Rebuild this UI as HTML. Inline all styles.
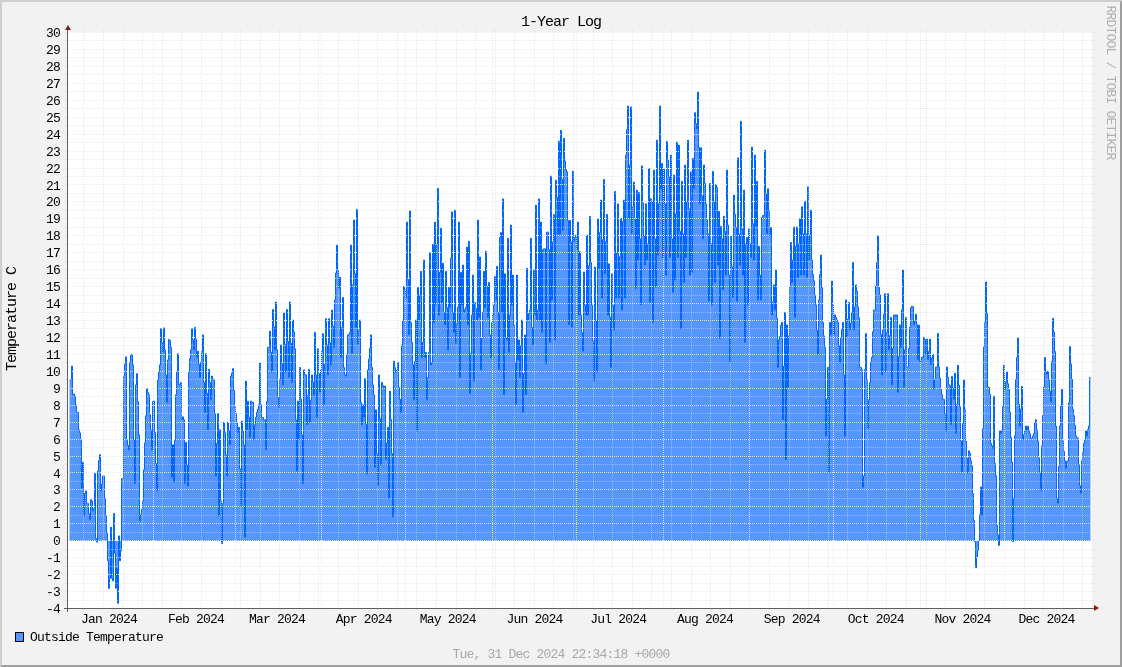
<!DOCTYPE html>
<html><head><meta charset="utf-8"><title>1-Year Log</title>
<style>html,body{margin:0;padding:0;background:#f2f2f2;}svg{display:block;will-change:transform;}</style>
</head><body>
<svg width="1122" height="667" viewBox="0 0 1122 667">
<rect x="0" y="0" width="1122" height="667" fill="#f2f2f2"/>
<polygon points="0,0 1122,0 1120,2 2,2 2,665 0,667" fill="#cfcfcf"/>
<polygon points="1122,0 1122,667 0,667 2,665 1120,665 1120,2" fill="#9e9e9e"/>
<rect x="68" y="32" width="1024" height="576" fill="#fff"/>
<path d="M69.5,541 V379.9H70.5H71.5V366.1H72.5V394.8H73.5V394H74.5V396.1H75.5V404.8H76.5V412.3H77.5H78.5V429.8H79.5V432.8H80.5V439.8H81.5V488.5H82.5V462.2H83.5V515.9H84.5V493.4H85.5V490.9H86.5V503.4H87.5H88.5V513.4H89.5V519.7H90.5V499.7H91.5V500.9H92.5V510.9H93.5V508.4H94.5V473.5H95.5V538.4H96.5V542.1H97.5V471H98.5V460.4H99.5V454.8H100.5V490.9H101.5V484H102.5V476H103.5H104.5V498.4H105.5V515.9H106.5V533.4H107.5V560.8H108.5V588.3H109.5V578.3H110.5V527.1H111.5V578.3H112.5V580.8H113.5V513.4H114.5V553.4H115.5V588.3H116.5V568.3H117.5V603.3H118.5V535.9H119.5V560.8H120.5V550.9H121.5V478.5H122.5H123.5V376.1H124.5V364H125.5V356.9H126.5V439.8H127.5V445.3H128.5V449.8H129.5V362.4H130.5V355.4H131.5V354.4H132.5V364.9H133.5V439.8H134.5V483.5H135.5V384.9H136.5V373.6H137.5V401.7H138.5V434.8H139.5V520.9H140.5V514.7H141.5V509.1H142.5V500.9H143.5V469.8H144.5V442.8H145.5V415.7H146.5V388.6H147.5V392.7H148.5V394.8H149.5V414.8H150.5V429.8H151.5V449.8H152.5V401.8H153.5V401.1H154.5V432.5H155.5V463.5H156.5V490.9H157.5V379.9H158.5V371.4H159.5V364.9H160.5V328.7H161.5V342.5H162.5V352.4H163.5V327.9H164.5V349.9H165.5V374.9H166.5V402.3H167.5V359.9H168.5V339.4H169.5V340.4H170.5V347.4H171.5V477.2H172.5V444.8H173.5V482.2H174.5V440.5H175.5V394.8H176.5V371.7H177.5V353.7H178.5V384.9H179.5V384.1H180.5V382.4H181.5V419.8H182.5V416.8H183.5V419.8H184.5V483.5H185.5V442.3H186.5V465.1H187.5V486H188.5V372.4H189.5V358.6H190.5V349.9H191.5V328.7H192.5V339.8H193.5V349.9H194.5V327.4H195.5V339.4H196.5V357.4H197.5V351.2H198.5V364.3H199.5V377.4H200.5V362.4H201.5V351.7H202.5V334.9H203.5V382.4H204.5V412.3H205.5V353.7H206.5V393.2H207.5V429.8H208.5V369.4H209.5V382.6H210.5V399.8H211.5V376.1H212.5V379H213.5V379.9H214.5V413.6H215.5V476H216.5V443.3H217.5V413.6H218.5V515.9H219.5V429.8H220.5V500.9H221.5V543.4H222.5V503.4H223.5V422.3H224.5V432.3H225.5V455.1H226.5V476H227.5V422.3H228.5V431H229.5V444.8H230.5V376.1H231.5V372.9H232.5V368.6H233.5V390.5H234.5V407.3H235.5V413.6H236.5V423H237.5V432.3H238.5V427.3H239.5V468.6H240.5V505.9H241.5V421.1H242.5V431.4H243.5V444.8H244.5V537.1H245.5V381.1H246.5V429.8H247.5V401.1H248.5V417.2H249.5V437.3H250.5V401.1H251.5V402.7H252.5V402.3H253.5V439.8H254.5V424.8H255.5V417.1H256.5V412.3H257.5V409.1H258.5V404.8H259.5V362.9H260.5V404.8H261.5V417.3H262.5V417.6H263.5V419.8H264.5H265.5V449.8H266.5V401.6H267.5V347.4H268.5H269.5V331.2H270.5V352.3H271.5V372.4H272.5V309.5H273.5V326.7H274.5V349.9H275.5V302H276.5V349.7H277.5V397.3H278.5V407.3H279.5V379.1H280.5V344.9H281.5V363.4H282.5V384.9H283.5V313H284.5V344.2H285.5V372.4H286.5V309.5H287.5V341.4H288.5V377.4H289.5V302H290.5V343.2H291.5V382.4H292.5V320H293.5V331.8H294.5V348.7H295.5V419.8H296.5V471H297.5V401.1H298.5V439.8H299.5V367.4H300.5V399.1H301.5V434.8H302.5V483.5H303.5V369.9H304.5V374.4H305.5V374.9H306.5V424.8H307.5V395.6H308.5V369.4H309.5V422.3H310.5V400.1H311.5V374.9H312.5V381.9H313.5V394.8H314.5V332.4H315.5V374.9H316.5V417.3H317.5V348.7H318.5V373.5H319.5V392.3H320.5V369.9H321.5V351.3H322.5V333.7H323.5V404.8H324.5V364.3H325.5V318.7H326.5V344.8H327.5V374.9H328.5V318.7H329.5V342.8H330.5V364.9H331.5V310H332.5V326.2H333.5V347.4H334.5V300H335.5V273.1H336.5V245.2H337.5V269.2H338.5V288.3H339.5V277.1H340.5V357.4H341.5V327.4H342.5V297.5H343.5V367.4H344.5V374.8H345.5V376.1H346.5V354H347.5V334.9H348.5V334.2H349.5V332.4H350.5V245.1H351.5V353.7H352.5V284.9H353.5V220.1H354.5V273.8H355.5V327.4H356.5V209.4H357.5V344.9H358.5V329.9H359.5V320H360.5V402.3H361.5V424.8H362.5V404.8H363.5V417.3H364.5V378.6H365.5V424.3H366.5V474H367.5V369.9H368.5V359.2H369.5V348.6H370.5V334.9H371.5V367.4H372.5V384.9H373.5V394.8H374.5V467.2H375.5V409.8H376.5V453.5H377.5V485.5H378.5V374.9H379.5V418.8H380.5V464.7H381.5V382.4H382.5V385.6H383.5V387.9H384.5V386.1H385.5V459.7H386.5V443H387.5V427.3H388.5V498.4H389.5V391.1H390.5V419.3H391.5V453.5H392.5V517.2H393.5V361.1H394.5V367.8H395.5V372.4H396.5V370.4H397.5V362.4H398.5V387.4H399.5V399.3H400.5V412.3H401.5V344.9H402.5V320H403.5V286.3H404.5V290.1H405.5V298H406.5V222.1H407.5V279.5H408.5V334.9H409.5V210.9H410.5V322.5H411.5V342.2H412.5V364.9H413.5V399.8H414.5V361.4H415.5V320H416.5V431H417.5V287.5H418.5V320H419.5V295.6H420.5V271.3H421.5V357.4H422.5V342.4H423.5V260H424.5V357.4H425.5V352.4H426.5V399.8H427.5V377.6H428.5V352.4H429.5V252.6H430.5V364.9H431.5V362.4H432.5V244.3H433.5V322.5H434.5V222.1H435.5V305H436.5V244.2H437.5V188.4H438.5V315H439.5V272.2H440.5V228.3H441.5V302.5H442.5V263.3H443.5V312.5H444.5V324.9H445.5V271.3H446.5V307.5H447.5V349.9H448.5V287.5H449.5V307.5H450.5V258.2H451.5V211.9H452.5V312.5H453.5V332.4H454.5V210.1H455.5V343.7H456.5V323.6H457.5V307.5H458.5V222.1H459.5V377.4H460.5V272.5H461.5V305H462.5V265H463.5V312.5H464.5V309.5H465.5V307.5H466.5V247.1H467.5V324.9H468.5V241.3H469.5V393.6H470.5V353.3H471.5V315H472.5V275H473.5V381.1H474.5V302.5H475.5V308.7H476.5V320H477.5V220.1H478.5V317.5H479.5V257H480.5V369.9H481.5V338.2H482.5V312.5H483.5V271.3H484.5V307.5H485.5V251.3H486.5V286.4H487.5V317.5H488.5V282.5H489.5V334.9H490.5V357.4H491.5V322.5H492.5V315.2H493.5V305H494.5V276.3H495.5V300H496.5V266.3H497.5V312.5H498.5V369.9H499.5V237.6H500.5V232.6H501.5V312.5H502.5V198.9H503.5V394.8H504.5V273.8H505.5V337.4H506.5V339.9H507.5V238.3H508.5V352.4H509.5V315H510.5V225.1H511.5V305H512.5V275H513.5V324.9H514.5V362.4H515.5V404.8H516.5V275H517.5V359.9H518.5V339.9H519.5V377.4H520.5V345.7H521.5V320H522.5V412.3H523.5V373.6H524.5V334.9H525.5V394.8H526.5V268.3H527.5V320H528.5V313.5H529.5V310H530.5V238.3H531.5V327.4H532.5V344.9H533.5V270H534.5V315H535.5V205.1H536.5V320H537.5V310H538.5V198.9H539.5V320H540.5V222.1H541.5V332.4H542.5V249.7H543.5V248.8H544.5V248.8H545.5V363.6H546.5V232.2H547.5V232.1H548.5V249.7H549.5V342.4H550.5V176.1H551.5V300H552.5V241.9H553.5V214.7H554.5V339.9H555.5V180.2H556.5V197.1H557.5V234.1H558.5V141.2H559.5V234.1H560.5V130.3H561.5V179.3H562.5V230.2H563.5V138.3H564.5V161.1H565.5V169.4H566.5V171.8H567.5V220.5H568.5V324.9H569.5V220.5H570.5V241.9H571.5V327.4H572.5V171.2H573.5V241.9H574.5V237.5H575.5V235.1H576.5V249.7H577.5V222.1H578.5V315H579.5V251.7H580.5V315H581.5V332.6H582.5V351.2H583.5V272H584.5V305H585.5V315H586.5V235.1H587.5V315H588.5V265.7H589.5V216.4H590.5V262.7H591.5V305H592.5V340.5H593.5V381.1H594.5V267H595.5V320H596.5V372.4H597.5V218.9H598.5V268.8H599.5V232.5H600.5V200.1H601.5V298H602.5V239.7H603.5V179.4H604.5V273.8H605.5V241.6H606.5V214.4H607.5V315H608.5V263.8H609.5V317.1H610.5V367.4H611.5V273.8H612.5V305H613.5V329.9H614.5V191.4H615.5V298H616.5V252.9H617.5V203.9H618.5V298H619.5V256.7H620.5V218.4H621.5V310H622.5V221.4H623.5V200.1H624.5V298H625.5V155.2H626.5V129.6H627.5V106H628.5V218.8H629.5V164.9H630.5V107H631.5V233.8H632.5V206.4H633.5V182.1H634.5V218.8H635.5V288.7H636.5V190.1H637.5V260H638.5V192.6H639.5V238.8H640.5V304.9H641.5V165.9H642.5V203.1H643.5V236.3H644.5V265H645.5V203.8H646.5V260H647.5V243.8H648.5V168.4H649.5V302.4H650.5V198.8H651.5V201.3H652.5V322.4H653.5V170.1H654.5V238.8H655.5V287.4H656.5V140.2H657.5V255H658.5V203.8H659.5V106H660.5V188.8H661.5V163.4H662.5V257.5H663.5V168.4H664.5V203.8H665.5V275H666.5V141.4H667.5V159.9H668.5V176.4H669.5V257.5H670.5V155.1H671.5V238.8H672.5V292.4H673.5V175.1H674.5V280H675.5V213.8H676.5V142.2H677.5V257.5H678.5V145.2H679.5V231.3H680.5V328.6H681.5V181.4H682.5V233.8H683.5V282.5H684.5V165.1H685.5V257.5H686.5V201.3H687.5V140.2H688.5V208.8H689.5V275H690.5V171.9H691.5V272.5H692.5V158.4H693.5V188.8H694.5V112.7H695.5V123.8H696.5V128.9H697.5V92H698.5V147.4H699.5V203.8H700.5V147.7H701.5V195.7H702.5V238.8H703.5V165.1H704.5V183.5H705.5V203.8H706.5V219.8H707.5V233.8H708.5V301.2H709.5V183.4H710.5V243.8H711.5V304.9H712.5V171.4H713.5V201.3H714.5V282.5H715.5V184.6H716.5V187.6H717.5V265H718.5V211.3H719.5V338.6H720.5V226.3H721.5V238.8H722.5V289.9H723.5V216.3H724.5V231.3H725.5V275H726.5V170.1H727.5V225H728.5V275H729.5V362.3H730.5V236.3H731.5V266.8H732.5V297.4H733.5V195.1H734.5V214.3H735.5V227.5H736.5V301.2H737.5V157.9H738.5V233.8H739.5V265H740.5V121.4H741.5V228.8H742.5V275H743.5V190.1H744.5V342.4H745.5V243.8H746.5V237.5H747.5V304.9H748.5V228.8H749.5V243.8H750.5V257.5H751.5V147.2H752.5V223.8H753.5V260H754.5V155.1H755.5V226.3H756.5V181.4H757.5V299.9H758.5V246.3H759.5V275.1H760.5V299.9H761.5V217.5H762.5V215.4H763.5V216.3H764.5V150.2H765.5V193.5H766.5V233.8H767.5V188.8H768.5V210.6H769.5V236.3H770.5V227.5H771.5V314.9H772.5V301.9H773.5V284.9H774.5V309.9H775.5V270H776.5V318.1H777.5V367.3H778.5V339.9H779.5V336.5H780.5V325.2H781.5V322.4H782.5V419.7H783.5V366.1H784.5V312.4H785.5V459.7H786.5V324.9H787.5V387.3H788.5V335.9H789.5V287.4H790.5V242.5H791.5V282.5H792.5V260H793.5V227H794.5V317.4H795.5V246.3H796.5V227H797.5V277.5H798.5V243.8H799.5V218.8H800.5V275H801.5V206.8H802.5V233.8H803.5V275H804.5V201.3H805.5V233.8H806.5V277.5H807.5V186.8H808.5V260H809.5V235H810.5V210.1H811.5V260H812.5V274.6H813.5V280.8H814.5V294.9H815.5V304.9H816.5V330.4H817.5V354.8H818.5V299.9H819.5V274.5H820.5V255H821.5V287.7H822.5V322.4H823.5V335.9H824.5V347.4H825.5V436H826.5V399.1H827.5V367.3H828.5V472.2H829.5V322.4H830.5V334.9H831.5V281.2H832.5V305H833.5V334.9H834.5V314.9H835.5V317.4H836.5V319.9H837.5V322.4H838.5V345.4H839.5V362.3H840.5V337.4H841.5V329.4H842.5V322.4H843.5V374.8H844.5V436H845.5V299.9H846.5V337.4H847.5V318.9H848.5V302.4H849.5V329.9H850.5V323.1H851.5V312.4H852.5V262.5H853.5V329.9H854.5V306.9H855.5V284.9H856.5V291.2H857.5V306.8H858.5V317.4H859.5V367.3H860.5V367.6H861.5V369.8H862.5V487.1H863.5V475.9H864.5V369.8H865.5V333.6H866.5V379.6H867.5V428.5H868.5V399.8H869.5V382.6H870.5V362.3H871.5V357.3H872.5V331.6H873.5V309.9H874.5H875.5V286.2H876.5V262.5H877.5V235.8H878.5V287.4H879.5V294.9H880.5V334.4H881.5V374.8H882.5V329.9H883.5V314.3H884.5V293.7H885.5V372.3H886.5V332H887.5V293.7H888.5V349.8H889.5V335.6H890.5V317.4H891.5V384.8H892.5V348.3H893.5V314.9H894.5H895.5V316.4H896.5V314.9H897.5V392.3H898.5V356.6H899.5V324.9H900.5V347.4H901.5V309.7H902.5V270H903.5V387.3H904.5V349.8H905.5V317.4H906.5V367H907.5H908.5V348.6H909.5V327.2H910.5V307.7H911.5V306.2H912.5V306.7H913.5V324.7H914.5V320.4H915.5V314.2H916.5V324.7H917.5V359.5H918.5V325.2H919.5V362H920.5V360H921.5V357H922.5H923.5V337.1H924.5V339.6H925.5V354.5H926.5V339.1H927.5V359.5H928.5V351.3H929.5V339.1H930.5V364.5H931.5V358H932.5V354.5H933.5V389.4H934.5V379.7H935.5V367H936.5H937.5V333.4H938.5V367H939.5V378.2H940.5V389.4H941.5V394.7H942.5V399H943.5V399.3H944.5V413.6H945.5V430.9H946.5V367H947.5V377.2H948.5V384.4H949.5V385.6H950.5V424.7H951.5V376.4H952.5V387.9H953.5V399.3H954.5V373.2H955.5V433.4H956.5V404.3H957.5V365.2H958.5V385.5H959.5V406.8H960.5V440.9H961.5V472H962.5V423.5H963.5V379.9H964.5V409.4H965.5V440.9H966.5V458.1H967.5V473.2H968.5V450.8H969.5V453.3H970.5V460.8H971.5V465.8H972.5V493.7H973.5V520.5H974.5V541.7H975.5V567.8H976.5V557.1H977.5V550.4H978.5V540.4H979.5V514.7H980.5V486.9H981.5V515.6H982.5V428.8H983.5V347.1H984.5V322.2H985.5V281.9H986.5V313.5H987.5V386.9H988.5V387.6H989.5V394.3H990.5V443.4H991.5V445.9H992.5V448.4H993.5V396.3H994.5V463.3H995.5V475.7H996.5V525.5H997.5V535H998.5V545.4H999.5V430.9H1000.5V433.4H1001.5V430.9H1002.5V406.8H1003.5V365.2H1004.5V389.4H1005.5V381.7H1006.5V371.9H1007.5V383.7H1008.5V389.4H1009.5V412.1H1010.5V437.3H1011.5V462H1012.5V541.7H1013.5V498.1H1014.5V435.8H1015.5V379.4H1016.5V357.6H1017.5V337.9H1018.5V404.3H1019.5V426H1020.5V409.2H1021.5V386.4H1022.5V439.6H1023.5V434.6H1024.5V431H1025.5V426H1026.5V430.1H1027.5V426.3H1028.5V430.9H1029.5V433.7H1030.5V438.4H1031.5V438.2H1032.5V435.9H1033.5V433.5H1034.5V422.6H1035.5V419.7H1036.5V429.8H1037.5V440.9H1038.5V457.9H1039.5V472H1040.5V490.7H1041.5V445.9H1042.5V415.4H1043.5V387H1044.5V357.5H1045.5V371.5H1046.5V374.2H1047.5V371H1048.5V379.7H1049.5V391H1050.5V401.8H1051.5V361.6H1052.5V318.4H1053.5V332H1054.5V351.5H1055.5V426H1056.5V498.1H1057.5V503.1H1058.5V466.5H1059.5V426H1060.5V405.2H1061.5V389.4H1062.5V440.9H1063.5V451.3H1064.5V460.8H1065.5V468.3H1066.5V461.5H1067.5V460.8H1068.5V402.7H1069.5V346.6H1070.5V364H1071.5V379.4H1072.5V409.3H1073.5V415.7H1074.5V425.5H1075.5V435.9H1076.5V437.7H1077.5V438.4H1078.5V464.5H1079.5V485.7H1080.5V493.2H1081.5V460.8H1082.5V452.1H1083.5V443.4H1084.5V439.2H1085.5V430.9H1086.5V435.9H1087.5V429.4H1088.5V426H1089.5V377.4H1090.5V541 Z" fill="#5597ff"/>
<path d="M69.5,379.9H70.5H71.5V366.1H72.5V394.8H73.5V394H74.5V396.1H75.5V404.8H76.5V412.3H77.5H78.5V429.8H79.5V432.8H80.5V439.8H81.5V488.5H82.5V462.2H83.5V515.9H84.5V493.4H85.5V490.9H86.5V503.4H87.5H88.5V513.4H89.5V519.7H90.5V499.7H91.5V500.9H92.5V510.9H93.5V508.4H94.5V473.5H95.5V538.4H96.5V542.1H97.5V471H98.5V460.4H99.5V454.8H100.5V490.9H101.5V484H102.5V476H103.5H104.5V498.4H105.5V515.9H106.5V533.4H107.5V560.8H108.5V588.3H109.5V578.3H110.5V527.1H111.5V578.3H112.5V580.8H113.5V513.4H114.5V553.4H115.5V588.3H116.5V568.3H117.5V603.3H118.5V535.9H119.5V560.8H120.5V550.9H121.5V478.5H122.5H123.5V376.1H124.5V364H125.5V356.9H126.5V439.8H127.5V445.3H128.5V449.8H129.5V362.4H130.5V355.4H131.5V354.4H132.5V364.9H133.5V439.8H134.5V483.5H135.5V384.9H136.5V373.6H137.5V401.7H138.5V434.8H139.5V520.9H140.5V514.7H141.5V509.1H142.5V500.9H143.5V469.8H144.5V442.8H145.5V415.7H146.5V388.6H147.5V392.7H148.5V394.8H149.5V414.8H150.5V429.8H151.5V449.8H152.5V401.8H153.5V401.1H154.5V432.5H155.5V463.5H156.5V490.9H157.5V379.9H158.5V371.4H159.5V364.9H160.5V328.7H161.5V342.5H162.5V352.4H163.5V327.9H164.5V349.9H165.5V374.9H166.5V402.3H167.5V359.9H168.5V339.4H169.5V340.4H170.5V347.4H171.5V477.2H172.5V444.8H173.5V482.2H174.5V440.5H175.5V394.8H176.5V371.7H177.5V353.7H178.5V384.9H179.5V384.1H180.5V382.4H181.5V419.8H182.5V416.8H183.5V419.8H184.5V483.5H185.5V442.3H186.5V465.1H187.5V486H188.5V372.4H189.5V358.6H190.5V349.9H191.5V328.7H192.5V339.8H193.5V349.9H194.5V327.4H195.5V339.4H196.5V357.4H197.5V351.2H198.5V364.3H199.5V377.4H200.5V362.4H201.5V351.7H202.5V334.9H203.5V382.4H204.5V412.3H205.5V353.7H206.5V393.2H207.5V429.8H208.5V369.4H209.5V382.6H210.5V399.8H211.5V376.1H212.5V379H213.5V379.9H214.5V413.6H215.5V476H216.5V443.3H217.5V413.6H218.5V515.9H219.5V429.8H220.5V500.9H221.5V543.4H222.5V503.4H223.5V422.3H224.5V432.3H225.5V455.1H226.5V476H227.5V422.3H228.5V431H229.5V444.8H230.5V376.1H231.5V372.9H232.5V368.6H233.5V390.5H234.5V407.3H235.5V413.6H236.5V423H237.5V432.3H238.5V427.3H239.5V468.6H240.5V505.9H241.5V421.1H242.5V431.4H243.5V444.8H244.5V537.1H245.5V381.1H246.5V429.8H247.5V401.1H248.5V417.2H249.5V437.3H250.5V401.1H251.5V402.7H252.5V402.3H253.5V439.8H254.5V424.8H255.5V417.1H256.5V412.3H257.5V409.1H258.5V404.8H259.5V362.9H260.5V404.8H261.5V417.3H262.5V417.6H263.5V419.8H264.5H265.5V449.8H266.5V401.6H267.5V347.4H268.5H269.5V331.2H270.5V352.3H271.5V372.4H272.5V309.5H273.5V326.7H274.5V349.9H275.5V302H276.5V349.7H277.5V397.3H278.5V407.3H279.5V379.1H280.5V344.9H281.5V363.4H282.5V384.9H283.5V313H284.5V344.2H285.5V372.4H286.5V309.5H287.5V341.4H288.5V377.4H289.5V302H290.5V343.2H291.5V382.4H292.5V320H293.5V331.8H294.5V348.7H295.5V419.8H296.5V471H297.5V401.1H298.5V439.8H299.5V367.4H300.5V399.1H301.5V434.8H302.5V483.5H303.5V369.9H304.5V374.4H305.5V374.9H306.5V424.8H307.5V395.6H308.5V369.4H309.5V422.3H310.5V400.1H311.5V374.9H312.5V381.9H313.5V394.8H314.5V332.4H315.5V374.9H316.5V417.3H317.5V348.7H318.5V373.5H319.5V392.3H320.5V369.9H321.5V351.3H322.5V333.7H323.5V404.8H324.5V364.3H325.5V318.7H326.5V344.8H327.5V374.9H328.5V318.7H329.5V342.8H330.5V364.9H331.5V310H332.5V326.2H333.5V347.4H334.5V300H335.5V273.1H336.5V245.2H337.5V269.2H338.5V288.3H339.5V277.1H340.5V357.4H341.5V327.4H342.5V297.5H343.5V367.4H344.5V374.8H345.5V376.1H346.5V354H347.5V334.9H348.5V334.2H349.5V332.4H350.5V245.1H351.5V353.7H352.5V284.9H353.5V220.1H354.5V273.8H355.5V327.4H356.5V209.4H357.5V344.9H358.5V329.9H359.5V320H360.5V402.3H361.5V424.8H362.5V404.8H363.5V417.3H364.5V378.6H365.5V424.3H366.5V474H367.5V369.9H368.5V359.2H369.5V348.6H370.5V334.9H371.5V367.4H372.5V384.9H373.5V394.8H374.5V467.2H375.5V409.8H376.5V453.5H377.5V485.5H378.5V374.9H379.5V418.8H380.5V464.7H381.5V382.4H382.5V385.6H383.5V387.9H384.5V386.1H385.5V459.7H386.5V443H387.5V427.3H388.5V498.4H389.5V391.1H390.5V419.3H391.5V453.5H392.5V517.2H393.5V361.1H394.5V367.8H395.5V372.4H396.5V370.4H397.5V362.4H398.5V387.4H399.5V399.3H400.5V412.3H401.5V344.9H402.5V320H403.5V286.3H404.5V290.1H405.5V298H406.5V222.1H407.5V279.5H408.5V334.9H409.5V210.9H410.5V322.5H411.5V342.2H412.5V364.9H413.5V399.8H414.5V361.4H415.5V320H416.5V431H417.5V287.5H418.5V320H419.5V295.6H420.5V271.3H421.5V357.4H422.5V342.4H423.5V260H424.5V357.4H425.5V352.4H426.5V399.8H427.5V377.6H428.5V352.4H429.5V252.6H430.5V364.9H431.5V362.4H432.5V244.3H433.5V322.5H434.5V222.1H435.5V305H436.5V244.2H437.5V188.4H438.5V315H439.5V272.2H440.5V228.3H441.5V302.5H442.5V263.3H443.5V312.5H444.5V324.9H445.5V271.3H446.5V307.5H447.5V349.9H448.5V287.5H449.5V307.5H450.5V258.2H451.5V211.9H452.5V312.5H453.5V332.4H454.5V210.1H455.5V343.7H456.5V323.6H457.5V307.5H458.5V222.1H459.5V377.4H460.5V272.5H461.5V305H462.5V265H463.5V312.5H464.5V309.5H465.5V307.5H466.5V247.1H467.5V324.9H468.5V241.3H469.5V393.6H470.5V353.3H471.5V315H472.5V275H473.5V381.1H474.5V302.5H475.5V308.7H476.5V320H477.5V220.1H478.5V317.5H479.5V257H480.5V369.9H481.5V338.2H482.5V312.5H483.5V271.3H484.5V307.5H485.5V251.3H486.5V286.4H487.5V317.5H488.5V282.5H489.5V334.9H490.5V357.4H491.5V322.5H492.5V315.2H493.5V305H494.5V276.3H495.5V300H496.5V266.3H497.5V312.5H498.5V369.9H499.5V237.6H500.5V232.6H501.5V312.5H502.5V198.9H503.5V394.8H504.5V273.8H505.5V337.4H506.5V339.9H507.5V238.3H508.5V352.4H509.5V315H510.5V225.1H511.5V305H512.5V275H513.5V324.9H514.5V362.4H515.5V404.8H516.5V275H517.5V359.9H518.5V339.9H519.5V377.4H520.5V345.7H521.5V320H522.5V412.3H523.5V373.6H524.5V334.9H525.5V394.8H526.5V268.3H527.5V320H528.5V313.5H529.5V310H530.5V238.3H531.5V327.4H532.5V344.9H533.5V270H534.5V315H535.5V205.1H536.5V320H537.5V310H538.5V198.9H539.5V320H540.5V222.1H541.5V332.4H542.5V249.7H543.5V248.8H544.5V248.8H545.5V363.6H546.5V232.2H547.5V232.1H548.5V249.7H549.5V342.4H550.5V176.1H551.5V300H552.5V241.9H553.5V214.7H554.5V339.9H555.5V180.2H556.5V197.1H557.5V234.1H558.5V141.2H559.5V234.1H560.5V130.3H561.5V179.3H562.5V230.2H563.5V138.3H564.5V161.1H565.5V169.4H566.5V171.8H567.5V220.5H568.5V324.9H569.5V220.5H570.5V241.9H571.5V327.4H572.5V171.2H573.5V241.9H574.5V237.5H575.5V235.1H576.5V249.7H577.5V222.1H578.5V315H579.5V251.7H580.5V315H581.5V332.6H582.5V351.2H583.5V272H584.5V305H585.5V315H586.5V235.1H587.5V315H588.5V265.7H589.5V216.4H590.5V262.7H591.5V305H592.5V340.5H593.5V381.1H594.5V267H595.5V320H596.5V372.4H597.5V218.9H598.5V268.8H599.5V232.5H600.5V200.1H601.5V298H602.5V239.7H603.5V179.4H604.5V273.8H605.5V241.6H606.5V214.4H607.5V315H608.5V263.8H609.5V317.1H610.5V367.4H611.5V273.8H612.5V305H613.5V329.9H614.5V191.4H615.5V298H616.5V252.9H617.5V203.9H618.5V298H619.5V256.7H620.5V218.4H621.5V310H622.5V221.4H623.5V200.1H624.5V298H625.5V155.2H626.5V129.6H627.5V106H628.5V218.8H629.5V164.9H630.5V107H631.5V233.8H632.5V206.4H633.5V182.1H634.5V218.8H635.5V288.7H636.5V190.1H637.5V260H638.5V192.6H639.5V238.8H640.5V304.9H641.5V165.9H642.5V203.1H643.5V236.3H644.5V265H645.5V203.8H646.5V260H647.5V243.8H648.5V168.4H649.5V302.4H650.5V198.8H651.5V201.3H652.5V322.4H653.5V170.1H654.5V238.8H655.5V287.4H656.5V140.2H657.5V255H658.5V203.8H659.5V106H660.5V188.8H661.5V163.4H662.5V257.5H663.5V168.4H664.5V203.8H665.5V275H666.5V141.4H667.5V159.9H668.5V176.4H669.5V257.5H670.5V155.1H671.5V238.8H672.5V292.4H673.5V175.1H674.5V280H675.5V213.8H676.5V142.2H677.5V257.5H678.5V145.2H679.5V231.3H680.5V328.6H681.5V181.4H682.5V233.8H683.5V282.5H684.5V165.1H685.5V257.5H686.5V201.3H687.5V140.2H688.5V208.8H689.5V275H690.5V171.9H691.5V272.5H692.5V158.4H693.5V188.8H694.5V112.7H695.5V123.8H696.5V128.9H697.5V92H698.5V147.4H699.5V203.8H700.5V147.7H701.5V195.7H702.5V238.8H703.5V165.1H704.5V183.5H705.5V203.8H706.5V219.8H707.5V233.8H708.5V301.2H709.5V183.4H710.5V243.8H711.5V304.9H712.5V171.4H713.5V201.3H714.5V282.5H715.5V184.6H716.5V187.6H717.5V265H718.5V211.3H719.5V338.6H720.5V226.3H721.5V238.8H722.5V289.9H723.5V216.3H724.5V231.3H725.5V275H726.5V170.1H727.5V225H728.5V275H729.5V362.3H730.5V236.3H731.5V266.8H732.5V297.4H733.5V195.1H734.5V214.3H735.5V227.5H736.5V301.2H737.5V157.9H738.5V233.8H739.5V265H740.5V121.4H741.5V228.8H742.5V275H743.5V190.1H744.5V342.4H745.5V243.8H746.5V237.5H747.5V304.9H748.5V228.8H749.5V243.8H750.5V257.5H751.5V147.2H752.5V223.8H753.5V260H754.5V155.1H755.5V226.3H756.5V181.4H757.5V299.9H758.5V246.3H759.5V275.1H760.5V299.9H761.5V217.5H762.5V215.4H763.5V216.3H764.5V150.2H765.5V193.5H766.5V233.8H767.5V188.8H768.5V210.6H769.5V236.3H770.5V227.5H771.5V314.9H772.5V301.9H773.5V284.9H774.5V309.9H775.5V270H776.5V318.1H777.5V367.3H778.5V339.9H779.5V336.5H780.5V325.2H781.5V322.4H782.5V419.7H783.5V366.1H784.5V312.4H785.5V459.7H786.5V324.9H787.5V387.3H788.5V335.9H789.5V287.4H790.5V242.5H791.5V282.5H792.5V260H793.5V227H794.5V317.4H795.5V246.3H796.5V227H797.5V277.5H798.5V243.8H799.5V218.8H800.5V275H801.5V206.8H802.5V233.8H803.5V275H804.5V201.3H805.5V233.8H806.5V277.5H807.5V186.8H808.5V260H809.5V235H810.5V210.1H811.5V260H812.5V274.6H813.5V280.8H814.5V294.9H815.5V304.9H816.5V330.4H817.5V354.8H818.5V299.9H819.5V274.5H820.5V255H821.5V287.7H822.5V322.4H823.5V335.9H824.5V347.4H825.5V436H826.5V399.1H827.5V367.3H828.5V472.2H829.5V322.4H830.5V334.9H831.5V281.2H832.5V305H833.5V334.9H834.5V314.9H835.5V317.4H836.5V319.9H837.5V322.4H838.5V345.4H839.5V362.3H840.5V337.4H841.5V329.4H842.5V322.4H843.5V374.8H844.5V436H845.5V299.9H846.5V337.4H847.5V318.9H848.5V302.4H849.5V329.9H850.5V323.1H851.5V312.4H852.5V262.5H853.5V329.9H854.5V306.9H855.5V284.9H856.5V291.2H857.5V306.8H858.5V317.4H859.5V367.3H860.5V367.6H861.5V369.8H862.5V487.1H863.5V475.9H864.5V369.8H865.5V333.6H866.5V379.6H867.5V428.5H868.5V399.8H869.5V382.6H870.5V362.3H871.5V357.3H872.5V331.6H873.5V309.9H874.5H875.5V286.2H876.5V262.5H877.5V235.8H878.5V287.4H879.5V294.9H880.5V334.4H881.5V374.8H882.5V329.9H883.5V314.3H884.5V293.7H885.5V372.3H886.5V332H887.5V293.7H888.5V349.8H889.5V335.6H890.5V317.4H891.5V384.8H892.5V348.3H893.5V314.9H894.5H895.5V316.4H896.5V314.9H897.5V392.3H898.5V356.6H899.5V324.9H900.5V347.4H901.5V309.7H902.5V270H903.5V387.3H904.5V349.8H905.5V317.4H906.5V367H907.5H908.5V348.6H909.5V327.2H910.5V307.7H911.5V306.2H912.5V306.7H913.5V324.7H914.5V320.4H915.5V314.2H916.5V324.7H917.5V359.5H918.5V325.2H919.5V362H920.5V360H921.5V357H922.5H923.5V337.1H924.5V339.6H925.5V354.5H926.5V339.1H927.5V359.5H928.5V351.3H929.5V339.1H930.5V364.5H931.5V358H932.5V354.5H933.5V389.4H934.5V379.7H935.5V367H936.5H937.5V333.4H938.5V367H939.5V378.2H940.5V389.4H941.5V394.7H942.5V399H943.5V399.3H944.5V413.6H945.5V430.9H946.5V367H947.5V377.2H948.5V384.4H949.5V385.6H950.5V424.7H951.5V376.4H952.5V387.9H953.5V399.3H954.5V373.2H955.5V433.4H956.5V404.3H957.5V365.2H958.5V385.5H959.5V406.8H960.5V440.9H961.5V472H962.5V423.5H963.5V379.9H964.5V409.4H965.5V440.9H966.5V458.1H967.5V473.2H968.5V450.8H969.5V453.3H970.5V460.8H971.5V465.8H972.5V493.7H973.5V520.5H974.5V541.7H975.5V567.8H976.5V557.1H977.5V550.4H978.5V540.4H979.5V514.7H980.5V486.9H981.5V515.6H982.5V428.8H983.5V347.1H984.5V322.2H985.5V281.9H986.5V313.5H987.5V386.9H988.5V387.6H989.5V394.3H990.5V443.4H991.5V445.9H992.5V448.4H993.5V396.3H994.5V463.3H995.5V475.7H996.5V525.5H997.5V535H998.5V545.4H999.5V430.9H1000.5V433.4H1001.5V430.9H1002.5V406.8H1003.5V365.2H1004.5V389.4H1005.5V381.7H1006.5V371.9H1007.5V383.7H1008.5V389.4H1009.5V412.1H1010.5V437.3H1011.5V462H1012.5V541.7H1013.5V498.1H1014.5V435.8H1015.5V379.4H1016.5V357.6H1017.5V337.9H1018.5V404.3H1019.5V426H1020.5V409.2H1021.5V386.4H1022.5V439.6H1023.5V434.6H1024.5V431H1025.5V426H1026.5V430.1H1027.5V426.3H1028.5V430.9H1029.5V433.7H1030.5V438.4H1031.5V438.2H1032.5V435.9H1033.5V433.5H1034.5V422.6H1035.5V419.7H1036.5V429.8H1037.5V440.9H1038.5V457.9H1039.5V472H1040.5V490.7H1041.5V445.9H1042.5V415.4H1043.5V387H1044.5V357.5H1045.5V371.5H1046.5V374.2H1047.5V371H1048.5V379.7H1049.5V391H1050.5V401.8H1051.5V361.6H1052.5V318.4H1053.5V332H1054.5V351.5H1055.5V426H1056.5V498.1H1057.5V503.1H1058.5V466.5H1059.5V426H1060.5V405.2H1061.5V389.4H1062.5V440.9H1063.5V451.3H1064.5V460.8H1065.5V468.3H1066.5V461.5H1067.5V460.8H1068.5V402.7H1069.5V346.6H1070.5V364H1071.5V379.4H1072.5V409.3H1073.5V415.7H1074.5V425.5H1075.5V435.9H1076.5V437.7H1077.5V438.4H1078.5V464.5H1079.5V485.7H1080.5V493.2H1081.5V460.8H1082.5V452.1H1083.5V443.4H1084.5V439.2H1085.5V430.9H1086.5V435.9H1087.5V429.4H1088.5V426H1089.5V377.4H1090.5" fill="none" stroke="#0066ff" stroke-width="1"/>
<g fill="none" stroke-width="1" shape-rendering="crispEdges">
<path d="M65,600.5 H67 M1092,600.5 H1094" stroke="rgba(215,215,230,0.55)"/>
<path d="M69,600.5 H1092" stroke="rgba(215,215,230,0.55)" stroke-dasharray="1 1"/>
<path d="M65,591.5 H68 M1092,591.5 H1095" stroke="rgba(232,232,242,0.9)"/>
<path d="M68,591.5 H1092" stroke="rgba(232,232,242,0.9)" stroke-dasharray="1 1"/>
<path d="M65,583.5 H67 M1092,583.5 H1094" stroke="rgba(215,215,230,0.55)"/>
<path d="M69,583.5 H1092" stroke="rgba(215,215,230,0.55)" stroke-dasharray="1 1"/>
<path d="M65,574.5 H68 M1092,574.5 H1095" stroke="rgba(232,232,242,0.9)"/>
<path d="M68,574.5 H1092" stroke="rgba(232,232,242,0.9)" stroke-dasharray="1 1"/>
<path d="M65,566.5 H67 M1092,566.5 H1094" stroke="rgba(215,215,230,0.55)"/>
<path d="M69,566.5 H1092" stroke="rgba(215,215,230,0.55)" stroke-dasharray="1 1"/>
<path d="M65,557.5 H68 M1092,557.5 H1095" stroke="rgba(232,232,242,0.9)"/>
<path d="M68,557.5 H1092" stroke="rgba(232,232,242,0.9)" stroke-dasharray="1 1"/>
<path d="M65,549.5 H67 M1092,549.5 H1094" stroke="rgba(215,215,230,0.55)"/>
<path d="M69,549.5 H1092" stroke="rgba(215,215,230,0.55)" stroke-dasharray="1 1"/>
<path d="M65,540.5 H68 M1092,540.5 H1095" stroke="rgba(232,232,242,0.9)"/>
<path d="M68,540.5 H1092" stroke="rgba(232,232,242,0.9)" stroke-dasharray="1 1"/>
<path d="M65,532.5 H67 M1092,532.5 H1094" stroke="rgba(215,215,230,0.55)"/>
<path d="M69,532.5 H1092" stroke="rgba(215,215,230,0.55)" stroke-dasharray="1 1"/>
<path d="M65,523.5 H68 M1092,523.5 H1095" stroke="rgba(232,232,242,0.9)"/>
<path d="M68,523.5 H1092" stroke="rgba(232,232,242,0.9)" stroke-dasharray="1 1"/>
<path d="M65,515.5 H67 M1092,515.5 H1094" stroke="rgba(215,215,230,0.55)"/>
<path d="M69,515.5 H1092" stroke="rgba(215,215,230,0.55)" stroke-dasharray="1 1"/>
<path d="M65,506.5 H68 M1092,506.5 H1095" stroke="rgba(232,232,242,0.9)"/>
<path d="M68,506.5 H1092" stroke="rgba(232,232,242,0.9)" stroke-dasharray="1 1"/>
<path d="M65,498.5 H67 M1092,498.5 H1094" stroke="rgba(215,215,230,0.55)"/>
<path d="M69,498.5 H1092" stroke="rgba(215,215,230,0.55)" stroke-dasharray="1 1"/>
<path d="M65,489.5 H68 M1092,489.5 H1095" stroke="rgba(232,232,242,0.9)"/>
<path d="M68,489.5 H1092" stroke="rgba(232,232,242,0.9)" stroke-dasharray="1 1"/>
<path d="M65,481.5 H67 M1092,481.5 H1094" stroke="rgba(215,215,230,0.55)"/>
<path d="M69,481.5 H1092" stroke="rgba(215,215,230,0.55)" stroke-dasharray="1 1"/>
<path d="M65,472.5 H68 M1092,472.5 H1095" stroke="rgba(232,232,242,0.9)"/>
<path d="M68,472.5 H1092" stroke="rgba(232,232,242,0.9)" stroke-dasharray="1 1"/>
<path d="M65,464.5 H67 M1092,464.5 H1094" stroke="rgba(215,215,230,0.55)"/>
<path d="M69,464.5 H1092" stroke="rgba(215,215,230,0.55)" stroke-dasharray="1 1"/>
<path d="M65,456.5 H68 M1092,456.5 H1095" stroke="rgba(232,232,242,0.9)"/>
<path d="M68,456.5 H1092" stroke="rgba(232,232,242,0.9)" stroke-dasharray="1 1"/>
<path d="M65,447.5 H67 M1092,447.5 H1094" stroke="rgba(215,215,230,0.55)"/>
<path d="M69,447.5 H1092" stroke="rgba(215,215,230,0.55)" stroke-dasharray="1 1"/>
<path d="M65,439.5 H68 M1092,439.5 H1095" stroke="rgba(232,232,242,0.9)"/>
<path d="M68,439.5 H1092" stroke="rgba(232,232,242,0.9)" stroke-dasharray="1 1"/>
<path d="M65,430.5 H67 M1092,430.5 H1094" stroke="rgba(215,215,230,0.55)"/>
<path d="M69,430.5 H1092" stroke="rgba(215,215,230,0.55)" stroke-dasharray="1 1"/>
<path d="M65,422.5 H68 M1092,422.5 H1095" stroke="rgba(232,232,242,0.9)"/>
<path d="M68,422.5 H1092" stroke="rgba(232,232,242,0.9)" stroke-dasharray="1 1"/>
<path d="M65,413.5 H67 M1092,413.5 H1094" stroke="rgba(215,215,230,0.55)"/>
<path d="M69,413.5 H1092" stroke="rgba(215,215,230,0.55)" stroke-dasharray="1 1"/>
<path d="M65,405.5 H68 M1092,405.5 H1095" stroke="rgba(232,232,242,0.9)"/>
<path d="M68,405.5 H1092" stroke="rgba(232,232,242,0.9)" stroke-dasharray="1 1"/>
<path d="M65,396.5 H67 M1092,396.5 H1094" stroke="rgba(215,215,230,0.55)"/>
<path d="M69,396.5 H1092" stroke="rgba(215,215,230,0.55)" stroke-dasharray="1 1"/>
<path d="M65,388.5 H68 M1092,388.5 H1095" stroke="rgba(232,232,242,0.9)"/>
<path d="M68,388.5 H1092" stroke="rgba(232,232,242,0.9)" stroke-dasharray="1 1"/>
<path d="M65,379.5 H67 M1092,379.5 H1094" stroke="rgba(215,215,230,0.55)"/>
<path d="M69,379.5 H1092" stroke="rgba(215,215,230,0.55)" stroke-dasharray="1 1"/>
<path d="M65,371.5 H68 M1092,371.5 H1095" stroke="rgba(232,232,242,0.9)"/>
<path d="M68,371.5 H1092" stroke="rgba(232,232,242,0.9)" stroke-dasharray="1 1"/>
<path d="M65,362.5 H67 M1092,362.5 H1094" stroke="rgba(215,215,230,0.55)"/>
<path d="M69,362.5 H1092" stroke="rgba(215,215,230,0.55)" stroke-dasharray="1 1"/>
<path d="M65,354.5 H68 M1092,354.5 H1095" stroke="rgba(232,232,242,0.9)"/>
<path d="M68,354.5 H1092" stroke="rgba(232,232,242,0.9)" stroke-dasharray="1 1"/>
<path d="M65,345.5 H67 M1092,345.5 H1094" stroke="rgba(215,215,230,0.55)"/>
<path d="M69,345.5 H1092" stroke="rgba(215,215,230,0.55)" stroke-dasharray="1 1"/>
<path d="M65,337.5 H68 M1092,337.5 H1095" stroke="rgba(232,232,242,0.9)"/>
<path d="M68,337.5 H1092" stroke="rgba(232,232,242,0.9)" stroke-dasharray="1 1"/>
<path d="M65,328.5 H67 M1092,328.5 H1094" stroke="rgba(215,215,230,0.55)"/>
<path d="M69,328.5 H1092" stroke="rgba(215,215,230,0.55)" stroke-dasharray="1 1"/>
<path d="M65,320.5 H68 M1092,320.5 H1095" stroke="rgba(232,232,242,0.9)"/>
<path d="M68,320.5 H1092" stroke="rgba(232,232,242,0.9)" stroke-dasharray="1 1"/>
<path d="M65,312.5 H67 M1092,312.5 H1094" stroke="rgba(215,215,230,0.55)"/>
<path d="M69,312.5 H1092" stroke="rgba(215,215,230,0.55)" stroke-dasharray="1 1"/>
<path d="M65,303.5 H68 M1092,303.5 H1095" stroke="rgba(232,232,242,0.9)"/>
<path d="M68,303.5 H1092" stroke="rgba(232,232,242,0.9)" stroke-dasharray="1 1"/>
<path d="M65,295.5 H67 M1092,295.5 H1094" stroke="rgba(215,215,230,0.55)"/>
<path d="M69,295.5 H1092" stroke="rgba(215,215,230,0.55)" stroke-dasharray="1 1"/>
<path d="M65,286.5 H68 M1092,286.5 H1095" stroke="rgba(232,232,242,0.9)"/>
<path d="M68,286.5 H1092" stroke="rgba(232,232,242,0.9)" stroke-dasharray="1 1"/>
<path d="M65,278.5 H67 M1092,278.5 H1094" stroke="rgba(215,215,230,0.55)"/>
<path d="M69,278.5 H1092" stroke="rgba(215,215,230,0.55)" stroke-dasharray="1 1"/>
<path d="M65,269.5 H68 M1092,269.5 H1095" stroke="rgba(232,232,242,0.9)"/>
<path d="M68,269.5 H1092" stroke="rgba(232,232,242,0.9)" stroke-dasharray="1 1"/>
<path d="M65,261.5 H67 M1092,261.5 H1094" stroke="rgba(215,215,230,0.55)"/>
<path d="M69,261.5 H1092" stroke="rgba(215,215,230,0.55)" stroke-dasharray="1 1"/>
<path d="M65,252.5 H68 M1092,252.5 H1095" stroke="rgba(232,232,242,0.9)"/>
<path d="M68,252.5 H1092" stroke="rgba(232,232,242,0.9)" stroke-dasharray="1 1"/>
<path d="M65,244.5 H67 M1092,244.5 H1094" stroke="rgba(215,215,230,0.55)"/>
<path d="M69,244.5 H1092" stroke="rgba(215,215,230,0.55)" stroke-dasharray="1 1"/>
<path d="M65,235.5 H68 M1092,235.5 H1095" stroke="rgba(232,232,242,0.9)"/>
<path d="M68,235.5 H1092" stroke="rgba(232,232,242,0.9)" stroke-dasharray="1 1"/>
<path d="M65,227.5 H67 M1092,227.5 H1094" stroke="rgba(215,215,230,0.55)"/>
<path d="M69,227.5 H1092" stroke="rgba(215,215,230,0.55)" stroke-dasharray="1 1"/>
<path d="M65,218.5 H68 M1092,218.5 H1095" stroke="rgba(232,232,242,0.9)"/>
<path d="M68,218.5 H1092" stroke="rgba(232,232,242,0.9)" stroke-dasharray="1 1"/>
<path d="M65,210.5 H67 M1092,210.5 H1094" stroke="rgba(215,215,230,0.55)"/>
<path d="M69,210.5 H1092" stroke="rgba(215,215,230,0.55)" stroke-dasharray="1 1"/>
<path d="M65,201.5 H68 M1092,201.5 H1095" stroke="rgba(232,232,242,0.9)"/>
<path d="M68,201.5 H1092" stroke="rgba(232,232,242,0.9)" stroke-dasharray="1 1"/>
<path d="M65,193.5 H67 M1092,193.5 H1094" stroke="rgba(215,215,230,0.55)"/>
<path d="M69,193.5 H1092" stroke="rgba(215,215,230,0.55)" stroke-dasharray="1 1"/>
<path d="M65,184.5 H68 M1092,184.5 H1095" stroke="rgba(232,232,242,0.9)"/>
<path d="M68,184.5 H1092" stroke="rgba(232,232,242,0.9)" stroke-dasharray="1 1"/>
<path d="M65,176.5 H67 M1092,176.5 H1094" stroke="rgba(215,215,230,0.55)"/>
<path d="M69,176.5 H1092" stroke="rgba(215,215,230,0.55)" stroke-dasharray="1 1"/>
<path d="M65,168.5 H68 M1092,168.5 H1095" stroke="rgba(232,232,242,0.9)"/>
<path d="M68,168.5 H1092" stroke="rgba(232,232,242,0.9)" stroke-dasharray="1 1"/>
<path d="M65,159.5 H67 M1092,159.5 H1094" stroke="rgba(215,215,230,0.55)"/>
<path d="M69,159.5 H1092" stroke="rgba(215,215,230,0.55)" stroke-dasharray="1 1"/>
<path d="M65,151.5 H68 M1092,151.5 H1095" stroke="rgba(232,232,242,0.9)"/>
<path d="M68,151.5 H1092" stroke="rgba(232,232,242,0.9)" stroke-dasharray="1 1"/>
<path d="M65,142.5 H67 M1092,142.5 H1094" stroke="rgba(215,215,230,0.55)"/>
<path d="M69,142.5 H1092" stroke="rgba(215,215,230,0.55)" stroke-dasharray="1 1"/>
<path d="M65,134.5 H68 M1092,134.5 H1095" stroke="rgba(232,232,242,0.9)"/>
<path d="M68,134.5 H1092" stroke="rgba(232,232,242,0.9)" stroke-dasharray="1 1"/>
<path d="M65,125.5 H67 M1092,125.5 H1094" stroke="rgba(215,215,230,0.55)"/>
<path d="M69,125.5 H1092" stroke="rgba(215,215,230,0.55)" stroke-dasharray="1 1"/>
<path d="M65,117.5 H68 M1092,117.5 H1095" stroke="rgba(232,232,242,0.9)"/>
<path d="M68,117.5 H1092" stroke="rgba(232,232,242,0.9)" stroke-dasharray="1 1"/>
<path d="M65,108.5 H67 M1092,108.5 H1094" stroke="rgba(215,215,230,0.55)"/>
<path d="M69,108.5 H1092" stroke="rgba(215,215,230,0.55)" stroke-dasharray="1 1"/>
<path d="M65,100.5 H68 M1092,100.5 H1095" stroke="rgba(232,232,242,0.9)"/>
<path d="M68,100.5 H1092" stroke="rgba(232,232,242,0.9)" stroke-dasharray="1 1"/>
<path d="M65,91.5 H67 M1092,91.5 H1094" stroke="rgba(215,215,230,0.55)"/>
<path d="M69,91.5 H1092" stroke="rgba(215,215,230,0.55)" stroke-dasharray="1 1"/>
<path d="M65,83.5 H68 M1092,83.5 H1095" stroke="rgba(232,232,242,0.9)"/>
<path d="M68,83.5 H1092" stroke="rgba(232,232,242,0.9)" stroke-dasharray="1 1"/>
<path d="M65,74.5 H67 M1092,74.5 H1094" stroke="rgba(215,215,230,0.55)"/>
<path d="M69,74.5 H1092" stroke="rgba(215,215,230,0.55)" stroke-dasharray="1 1"/>
<path d="M65,66.5 H68 M1092,66.5 H1095" stroke="rgba(232,232,242,0.9)"/>
<path d="M68,66.5 H1092" stroke="rgba(232,232,242,0.9)" stroke-dasharray="1 1"/>
<path d="M65,57.5 H67 M1092,57.5 H1094" stroke="rgba(215,215,230,0.55)"/>
<path d="M69,57.5 H1092" stroke="rgba(215,215,230,0.55)" stroke-dasharray="1 1"/>
<path d="M65,49.5 H68 M1092,49.5 H1095" stroke="rgba(232,232,242,0.9)"/>
<path d="M68,49.5 H1092" stroke="rgba(232,232,242,0.9)" stroke-dasharray="1 1"/>
<path d="M65,40.5 H67 M1092,40.5 H1094" stroke="rgba(215,215,230,0.55)"/>
<path d="M69,40.5 H1092" stroke="rgba(215,215,230,0.55)" stroke-dasharray="1 1"/>
<path d="M65,32.5 H68 M1092,32.5 H1095" stroke="rgba(232,232,242,0.9)"/>
<path d="M68,32.5 H1092" stroke="rgba(232,232,242,0.9)" stroke-dasharray="1 1"/>
<path d="M83.5,30 V33 M83.5,609 V610" stroke="rgba(215,215,230,0.55)"/>
<path d="M83.5,34 V608" stroke="rgba(215,215,230,0.55)" stroke-dasharray="1 1"/>
<path d="M103.5,30 V33 M103.5,609 V610" stroke="rgba(215,215,230,0.55)"/>
<path d="M103.5,34 V608" stroke="rgba(215,215,230,0.55)" stroke-dasharray="1 1"/>
<path d="M123.5,30 V33 M123.5,609 V610" stroke="rgba(215,215,230,0.55)"/>
<path d="M123.5,34 V608" stroke="rgba(215,215,230,0.55)" stroke-dasharray="1 1"/>
<path d="M142.5,30 V33 M142.5,609 V610" stroke="rgba(215,215,230,0.55)"/>
<path d="M142.5,34 V608" stroke="rgba(215,215,230,0.55)" stroke-dasharray="1 1"/>
<path d="M162.5,30 V33 M162.5,609 V610" stroke="rgba(215,215,230,0.55)"/>
<path d="M162.5,34 V608" stroke="rgba(215,215,230,0.55)" stroke-dasharray="1 1"/>
<path d="M181.5,30 V33 M181.5,609 V610" stroke="rgba(215,215,230,0.55)"/>
<path d="M181.5,34 V608" stroke="rgba(215,215,230,0.55)" stroke-dasharray="1 1"/>
<path d="M201.5,30 V33 M201.5,609 V610" stroke="rgba(215,215,230,0.55)"/>
<path d="M201.5,34 V608" stroke="rgba(215,215,230,0.55)" stroke-dasharray="1 1"/>
<path d="M221.5,30 V33 M221.5,609 V610" stroke="rgba(215,215,230,0.55)"/>
<path d="M221.5,34 V608" stroke="rgba(215,215,230,0.55)" stroke-dasharray="1 1"/>
<path d="M240.5,30 V33 M240.5,609 V610" stroke="rgba(215,215,230,0.55)"/>
<path d="M240.5,34 V608" stroke="rgba(215,215,230,0.55)" stroke-dasharray="1 1"/>
<path d="M260.5,30 V33 M260.5,609 V610" stroke="rgba(215,215,230,0.55)"/>
<path d="M260.5,34 V608" stroke="rgba(215,215,230,0.55)" stroke-dasharray="1 1"/>
<path d="M279.5,30 V33 M279.5,609 V610" stroke="rgba(215,215,230,0.55)"/>
<path d="M279.5,34 V608" stroke="rgba(215,215,230,0.55)" stroke-dasharray="1 1"/>
<path d="M299.5,30 V33 M299.5,609 V610" stroke="rgba(215,215,230,0.55)"/>
<path d="M299.5,34 V608" stroke="rgba(215,215,230,0.55)" stroke-dasharray="1 1"/>
<path d="M318.5,30 V33 M318.5,609 V610" stroke="rgba(215,215,230,0.55)"/>
<path d="M318.5,34 V608" stroke="rgba(215,215,230,0.55)" stroke-dasharray="1 1"/>
<path d="M338.5,30 V33 M338.5,609 V610" stroke="rgba(215,215,230,0.55)"/>
<path d="M338.5,34 V608" stroke="rgba(215,215,230,0.55)" stroke-dasharray="1 1"/>
<path d="M358.5,30 V33 M358.5,609 V610" stroke="rgba(215,215,230,0.55)"/>
<path d="M358.5,34 V608" stroke="rgba(215,215,230,0.55)" stroke-dasharray="1 1"/>
<path d="M377.5,30 V33 M377.5,609 V610" stroke="rgba(215,215,230,0.55)"/>
<path d="M377.5,34 V608" stroke="rgba(215,215,230,0.55)" stroke-dasharray="1 1"/>
<path d="M397.5,30 V33 M397.5,609 V610" stroke="rgba(215,215,230,0.55)"/>
<path d="M397.5,34 V608" stroke="rgba(215,215,230,0.55)" stroke-dasharray="1 1"/>
<path d="M416.5,30 V33 M416.5,609 V610" stroke="rgba(215,215,230,0.55)"/>
<path d="M416.5,34 V608" stroke="rgba(215,215,230,0.55)" stroke-dasharray="1 1"/>
<path d="M436.5,30 V33 M436.5,609 V610" stroke="rgba(215,215,230,0.55)"/>
<path d="M436.5,34 V608" stroke="rgba(215,215,230,0.55)" stroke-dasharray="1 1"/>
<path d="M456.5,30 V33 M456.5,609 V610" stroke="rgba(215,215,230,0.55)"/>
<path d="M456.5,34 V608" stroke="rgba(215,215,230,0.55)" stroke-dasharray="1 1"/>
<path d="M475.5,30 V33 M475.5,609 V610" stroke="rgba(215,215,230,0.55)"/>
<path d="M475.5,34 V608" stroke="rgba(215,215,230,0.55)" stroke-dasharray="1 1"/>
<path d="M495.5,30 V33 M495.5,609 V610" stroke="rgba(215,215,230,0.55)"/>
<path d="M495.5,34 V608" stroke="rgba(215,215,230,0.55)" stroke-dasharray="1 1"/>
<path d="M514.5,30 V33 M514.5,609 V610" stroke="rgba(215,215,230,0.55)"/>
<path d="M514.5,34 V608" stroke="rgba(215,215,230,0.55)" stroke-dasharray="1 1"/>
<path d="M534.5,30 V33 M534.5,609 V610" stroke="rgba(215,215,230,0.55)"/>
<path d="M534.5,34 V608" stroke="rgba(215,215,230,0.55)" stroke-dasharray="1 1"/>
<path d="M553.5,30 V33 M553.5,609 V610" stroke="rgba(215,215,230,0.55)"/>
<path d="M553.5,34 V608" stroke="rgba(215,215,230,0.55)" stroke-dasharray="1 1"/>
<path d="M573.5,30 V33 M573.5,609 V610" stroke="rgba(215,215,230,0.55)"/>
<path d="M573.5,34 V608" stroke="rgba(215,215,230,0.55)" stroke-dasharray="1 1"/>
<path d="M593.5,30 V33 M593.5,609 V610" stroke="rgba(215,215,230,0.55)"/>
<path d="M593.5,34 V608" stroke="rgba(215,215,230,0.55)" stroke-dasharray="1 1"/>
<path d="M612.5,30 V33 M612.5,609 V610" stroke="rgba(215,215,230,0.55)"/>
<path d="M612.5,34 V608" stroke="rgba(215,215,230,0.55)" stroke-dasharray="1 1"/>
<path d="M632.5,30 V33 M632.5,609 V610" stroke="rgba(215,215,230,0.55)"/>
<path d="M632.5,34 V608" stroke="rgba(215,215,230,0.55)" stroke-dasharray="1 1"/>
<path d="M651.5,30 V33 M651.5,609 V610" stroke="rgba(215,215,230,0.55)"/>
<path d="M651.5,34 V608" stroke="rgba(215,215,230,0.55)" stroke-dasharray="1 1"/>
<path d="M671.5,30 V33 M671.5,609 V610" stroke="rgba(215,215,230,0.55)"/>
<path d="M671.5,34 V608" stroke="rgba(215,215,230,0.55)" stroke-dasharray="1 1"/>
<path d="M691.5,30 V33 M691.5,609 V610" stroke="rgba(215,215,230,0.55)"/>
<path d="M691.5,34 V608" stroke="rgba(215,215,230,0.55)" stroke-dasharray="1 1"/>
<path d="M710.5,30 V33 M710.5,609 V610" stroke="rgba(215,215,230,0.55)"/>
<path d="M710.5,34 V608" stroke="rgba(215,215,230,0.55)" stroke-dasharray="1 1"/>
<path d="M730.5,30 V33 M730.5,609 V610" stroke="rgba(215,215,230,0.55)"/>
<path d="M730.5,34 V608" stroke="rgba(215,215,230,0.55)" stroke-dasharray="1 1"/>
<path d="M769.5,30 V33 M769.5,609 V610" stroke="rgba(215,215,230,0.55)"/>
<path d="M769.5,34 V608" stroke="rgba(215,215,230,0.55)" stroke-dasharray="1 1"/>
<path d="M789.5,30 V33 M789.5,609 V610" stroke="rgba(215,215,230,0.55)"/>
<path d="M789.5,34 V608" stroke="rgba(215,215,230,0.55)" stroke-dasharray="1 1"/>
<path d="M808.5,30 V33 M808.5,609 V610" stroke="rgba(215,215,230,0.55)"/>
<path d="M808.5,34 V608" stroke="rgba(215,215,230,0.55)" stroke-dasharray="1 1"/>
<path d="M828.5,30 V33 M828.5,609 V610" stroke="rgba(215,215,230,0.55)"/>
<path d="M828.5,34 V608" stroke="rgba(215,215,230,0.55)" stroke-dasharray="1 1"/>
<path d="M847.5,30 V33 M847.5,609 V610" stroke="rgba(215,215,230,0.55)"/>
<path d="M847.5,34 V608" stroke="rgba(215,215,230,0.55)" stroke-dasharray="1 1"/>
<path d="M867.5,30 V33 M867.5,609 V610" stroke="rgba(215,215,230,0.55)"/>
<path d="M867.5,34 V608" stroke="rgba(215,215,230,0.55)" stroke-dasharray="1 1"/>
<path d="M886.5,30 V33 M886.5,609 V610" stroke="rgba(215,215,230,0.55)"/>
<path d="M886.5,34 V608" stroke="rgba(215,215,230,0.55)" stroke-dasharray="1 1"/>
<path d="M906.5,30 V33 M906.5,609 V610" stroke="rgba(215,215,230,0.55)"/>
<path d="M906.5,34 V608" stroke="rgba(215,215,230,0.55)" stroke-dasharray="1 1"/>
<path d="M926.5,30 V33 M926.5,609 V610" stroke="rgba(215,215,230,0.55)"/>
<path d="M926.5,34 V608" stroke="rgba(215,215,230,0.55)" stroke-dasharray="1 1"/>
<path d="M945.5,30 V33 M945.5,609 V610" stroke="rgba(215,215,230,0.55)"/>
<path d="M945.5,34 V608" stroke="rgba(215,215,230,0.55)" stroke-dasharray="1 1"/>
<path d="M965.5,30 V33 M965.5,609 V610" stroke="rgba(215,215,230,0.55)"/>
<path d="M965.5,34 V608" stroke="rgba(215,215,230,0.55)" stroke-dasharray="1 1"/>
<path d="M984.5,30 V33 M984.5,609 V610" stroke="rgba(215,215,230,0.55)"/>
<path d="M984.5,34 V608" stroke="rgba(215,215,230,0.55)" stroke-dasharray="1 1"/>
<path d="M1024.5,30 V33 M1024.5,609 V610" stroke="rgba(215,215,230,0.55)"/>
<path d="M1024.5,34 V608" stroke="rgba(215,215,230,0.55)" stroke-dasharray="1 1"/>
<path d="M1043.5,30 V33 M1043.5,609 V610" stroke="rgba(215,215,230,0.55)"/>
<path d="M1043.5,34 V608" stroke="rgba(215,215,230,0.55)" stroke-dasharray="1 1"/>
<path d="M1063.5,30 V33 M1063.5,609 V610" stroke="rgba(215,215,230,0.55)"/>
<path d="M1063.5,34 V608" stroke="rgba(215,215,230,0.55)" stroke-dasharray="1 1"/>
<path d="M1082.5,30 V33 M1082.5,609 V610" stroke="rgba(215,215,230,0.55)"/>
<path d="M1082.5,34 V608" stroke="rgba(215,215,230,0.55)" stroke-dasharray="1 1"/>
<path d="M153.5,30 V33 M153.5,609 V611" stroke="rgba(232,232,242,0.9)"/>
<path d="M153.5,34 V608" stroke="rgba(232,232,242,0.9)" stroke-dasharray="1 1"/>
<path d="M235.5,30 V33 M235.5,609 V611" stroke="rgba(232,232,242,0.9)"/>
<path d="M235.5,34 V608" stroke="rgba(232,232,242,0.9)" stroke-dasharray="1 1"/>
<path d="M321.5,30 V33 M321.5,609 V611" stroke="rgba(232,232,242,0.9)"/>
<path d="M321.5,34 V608" stroke="rgba(232,232,242,0.9)" stroke-dasharray="1 1"/>
<path d="M405.5,30 V33 M405.5,609 V611" stroke="rgba(232,232,242,0.9)"/>
<path d="M405.5,34 V608" stroke="rgba(232,232,242,0.9)" stroke-dasharray="1 1"/>
<path d="M492.5,30 V33 M492.5,609 V611" stroke="rgba(232,232,242,0.9)"/>
<path d="M492.5,34 V608" stroke="rgba(232,232,242,0.9)" stroke-dasharray="1 1"/>
<path d="M576.5,30 V33 M576.5,609 V611" stroke="rgba(232,232,242,0.9)"/>
<path d="M576.5,34 V608" stroke="rgba(232,232,242,0.9)" stroke-dasharray="1 1"/>
<path d="M663.5,30 V33 M663.5,609 V611" stroke="rgba(232,232,242,0.9)"/>
<path d="M663.5,34 V608" stroke="rgba(232,232,242,0.9)" stroke-dasharray="1 1"/>
<path d="M749.5,30 V33 M749.5,609 V611" stroke="rgba(232,232,242,0.9)"/>
<path d="M749.5,34 V608" stroke="rgba(232,232,242,0.9)" stroke-dasharray="1 1"/>
<path d="M833.5,30 V33 M833.5,609 V611" stroke="rgba(232,232,242,0.9)"/>
<path d="M833.5,34 V608" stroke="rgba(232,232,242,0.9)" stroke-dasharray="1 1"/>
<path d="M920.5,30 V33 M920.5,609 V611" stroke="rgba(232,232,242,0.9)"/>
<path d="M920.5,34 V608" stroke="rgba(232,232,242,0.9)" stroke-dasharray="1 1"/>
<path d="M1004.5,30 V33 M1004.5,609 V611" stroke="rgba(232,232,242,0.9)"/>
<path d="M1004.5,34 V608" stroke="rgba(232,232,242,0.9)" stroke-dasharray="1 1"/>
</g>
<g stroke="rgba(31,31,31,0.7)" stroke-width="1" shape-rendering="crispEdges">
<path d="M64,608.5 H1094"/>
<path d="M67.5,612 V30"/>
</g>
<polygon points="65,30 71,30 68,25" fill="#861a1a"/>
<polygon points="1094,605 1094,611 1099,608" fill="#861a1a"/>
<g font-family="'Liberation Mono', monospace" font-size="13.0" letter-spacing="-0.8" fill="#000">
<text x="60" y="613.0" text-anchor="end">-4</text>
<text x="60" y="596.1" text-anchor="end">-3</text>
<text x="60" y="579.1" text-anchor="end">-2</text>
<text x="60" y="562.2" text-anchor="end">-1</text>
<text x="60" y="545.2" text-anchor="end">0</text>
<text x="60" y="528.3" text-anchor="end">1</text>
<text x="60" y="511.4" text-anchor="end">2</text>
<text x="60" y="494.4" text-anchor="end">3</text>
<text x="60" y="477.5" text-anchor="end">4</text>
<text x="60" y="460.5" text-anchor="end">5</text>
<text x="60" y="443.6" text-anchor="end">6</text>
<text x="60" y="426.6" text-anchor="end">7</text>
<text x="60" y="409.7" text-anchor="end">8</text>
<text x="60" y="392.8" text-anchor="end">9</text>
<text x="60" y="375.8" text-anchor="end">10</text>
<text x="60" y="358.9" text-anchor="end">11</text>
<text x="60" y="341.9" text-anchor="end">12</text>
<text x="60" y="325.0" text-anchor="end">13</text>
<text x="60" y="308.1" text-anchor="end">14</text>
<text x="60" y="291.1" text-anchor="end">15</text>
<text x="60" y="274.2" text-anchor="end">16</text>
<text x="60" y="257.2" text-anchor="end">17</text>
<text x="60" y="240.3" text-anchor="end">18</text>
<text x="60" y="223.4" text-anchor="end">19</text>
<text x="60" y="206.4" text-anchor="end">20</text>
<text x="60" y="189.5" text-anchor="end">21</text>
<text x="60" y="172.5" text-anchor="end">22</text>
<text x="60" y="155.6" text-anchor="end">23</text>
<text x="60" y="138.6" text-anchor="end">24</text>
<text x="60" y="121.7" text-anchor="end">25</text>
<text x="60" y="104.8" text-anchor="end">26</text>
<text x="60" y="87.8" text-anchor="end">27</text>
<text x="60" y="70.9" text-anchor="end">28</text>
<text x="60" y="53.9" text-anchor="end">29</text>
<text x="60" y="37.0" text-anchor="end">30</text>
<text x="109.1" y="623" text-anchor="middle">Jan 2024</text>
<text x="195.9" y="623" text-anchor="middle">Feb 2024</text>
<text x="277.0" y="623" text-anchor="middle">Mar 2024</text>
<text x="363.7" y="623" text-anchor="middle">Apr 2024</text>
<text x="447.7" y="623" text-anchor="middle">May 2024</text>
<text x="534.4" y="623" text-anchor="middle">Jun 2024</text>
<text x="618.3" y="623" text-anchor="middle">Jul 2024</text>
<text x="705.1" y="623" text-anchor="middle">Aug 2024</text>
<text x="791.8" y="623" text-anchor="middle">Sep 2024</text>
<text x="875.7" y="623" text-anchor="middle">Oct 2024</text>
<text x="962.5" y="623" text-anchor="middle">Nov 2024</text>
<text x="1046.4" y="623" text-anchor="middle">Dec 2024</text>
<text x="30" y="641">Outside Temperature</text>
</g>
<rect x="15.5" y="632.5" width="8" height="9" fill="#5597ff" stroke="#000" stroke-width="1"/>
<text x="561" y="26" font-family="'Liberation Mono', monospace" font-size="15.0" letter-spacing="-1.0" text-anchor="middle" fill="#000">1-Year Log</text>
<text transform="translate(15.5,319) rotate(-90)" font-family="'Liberation Mono', monospace" font-size="15.0" letter-spacing="-1.0" text-anchor="middle" fill="#000">Temperature C</text>
<text transform="translate(1107,5.5) rotate(90)" font-family="'Liberation Mono', monospace" font-size="13.0" letter-spacing="-0.8" fill="#b0b0b0">RRDTOOL / TOBI OETIKER</text>
<text x="561" y="658" font-family="'Liberation Mono', monospace" font-size="13.0" letter-spacing="-0.8" text-anchor="middle" fill="#a8a8a8">Tue, 31 Dec 2024 22:34:18 +0000</text>
</svg>
</body></html>
